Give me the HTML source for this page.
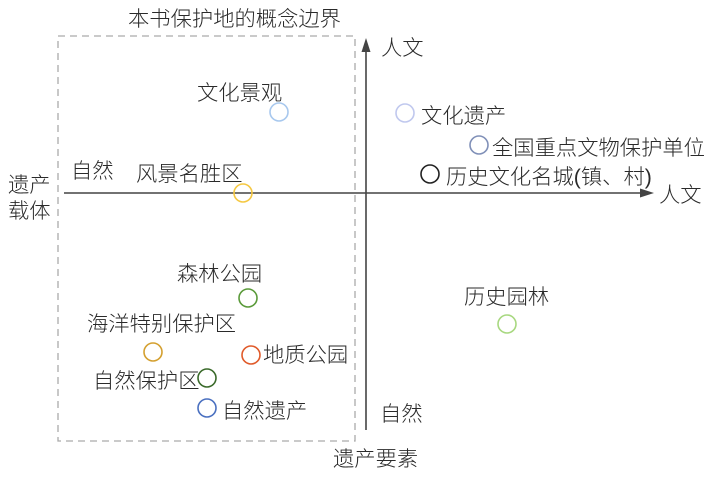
<!DOCTYPE html>
<html><head><meta charset="utf-8"><style>
html,body{margin:0;padding:0;background:#fff;}
svg text{font-family:"Liberation Sans","Noto Sans CJK SC",sans-serif;font-size:21.3px;fill:#2a2a2a;font-weight:300;}
</style></head><body>
<svg width="709" height="472" viewBox="0 0 709 472" xmlns="http://www.w3.org/2000/svg">
<rect x="58" y="36" width="297" height="405" fill="none" stroke="#aaa" stroke-width="1.3" stroke-dasharray="7,5"/>
<line x1="64" y1="193" x2="644" y2="193" stroke="#444" stroke-width="1.6"/>
<polygon points="654,193 640,188.5 640,197.5" fill="#444"/>
<line x1="366" y1="430" x2="366" y2="48" stroke="#444" stroke-width="1.6"/>
<polygon points="366,38 361.5,52 370.5,52" fill="#444"/>
<text x="128" y="26">本书保护地的概念边界</text>
<text x="197" y="100">文化景观</text>
<text x="136" y="181">风景名胜区</text>
<text x="71" y="178">自然</text>
<text x="8" y="192">遗产</text>
<text x="8" y="218">载体</text>
<text x="177" y="281">森林公园</text>
<text x="87" y="331">海洋特别保护区</text>
<text x="263" y="362">地质公园</text>
<text x="93" y="388">自然保护区</text>
<text x="222" y="418">自然遗产</text>
<text x="380" y="421">自然</text>
<text x="333" y="466">遗产要素</text>
<text x="381" y="55">人文</text>
<text x="659" y="202">人文</text>
<text x="421" y="123">文化遗产</text>
<text x="492" y="155">全国重点文物保护单位</text>
<text x="446" y="184">历史文化名城(镇、村)</text>
<text x="464" y="304">历史园林</text>
<g fill="none" stroke-width="1.6">
<circle cx="279" cy="112" r="9" stroke="#a8c8ee"/>
<circle cx="243" cy="193" r="9" stroke="#f5c842"/>
<circle cx="248" cy="298" r="9" stroke="#5a9a3a"/>
<circle cx="153" cy="352" r="9" stroke="#d4a030"/>
<circle cx="251" cy="355" r="9" stroke="#e05a2a"/>
<circle cx="207" cy="378" r="9" stroke="#3a6a2a"/>
<circle cx="207" cy="408" r="9" stroke="#4a70c0"/>
<circle cx="405" cy="113" r="9" stroke="#c0c8ee"/>
<circle cx="479" cy="145" r="9" stroke="#8090b8"/>
<circle cx="430" cy="174" r="9" stroke="#222"/>
<circle cx="507" cy="324" r="9" stroke="#a8d880"/>
</g>
</svg>
</body></html>
